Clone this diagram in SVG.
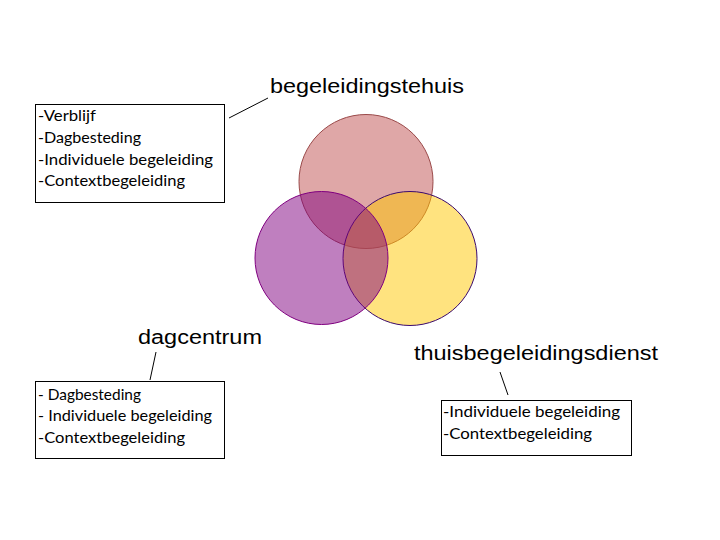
<svg xmlns="http://www.w3.org/2000/svg" width="720" height="540" viewBox="0 0 720 540">
<style>
.title{font-family:"Liberation Sans",Arial,sans-serif;font-size:20px;fill:#000}
.item{font-family:Lato,"Open Sans",sans-serif;font-size:16px;fill:#000}
.box{fill:#fff;stroke:#000;stroke-width:1}
.conn{stroke:#000;stroke-width:1;fill:none}
</style>
<rect width="720" height="540" fill="#fff"/>
<g id="circles">
<circle id="c-top" cx="366" cy="181.5" r="67" fill="rgb(192,80,80)" fill-opacity="0.5" stroke="#9a4a4a" stroke-width="1"/>
<circle id="c-right" cx="410" cy="258.5" r="67" fill="rgb(255,200,0)" fill-opacity="0.5" stroke="#3a0a70" stroke-width="1"/>
<circle id="c-left" cx="321.5" cy="258" r="66.5" fill="rgb(128,0,128)" fill-opacity="0.5" stroke="#800080" stroke-width="1"/>
</g>
<g id="connectors">
<line class="conn" x1="229" y1="118" x2="268" y2="98"/>
<line class="conn" x1="156" y1="352" x2="150" y2="380"/>
<line class="conn" x1="500" y1="372" x2="508" y2="395"/>
</g>
<g id="node-begeleidingstehuis">
<text class="title" x="270" y="93" textLength="194" lengthAdjust="spacingAndGlyphs">begeleidingstehuis</text>
<rect class="box" x="35.5" y="104.5" width="189" height="98"/>
<text class="item" x="38" y="121" textLength="58" lengthAdjust="spacingAndGlyphs">-Verblijf</text>
<text class="item" x="38" y="143" textLength="103" lengthAdjust="spacingAndGlyphs">-Dagbesteding</text>
<text class="item" x="38" y="165" textLength="175" lengthAdjust="spacingAndGlyphs">-Individuele begeleiding</text>
<text class="item" x="38" y="186" textLength="147" lengthAdjust="spacingAndGlyphs">-Contextbegeleiding</text>
</g>
<g id="node-dagcentrum">
<text class="title" x="138" y="344" textLength="124" lengthAdjust="spacingAndGlyphs">dagcentrum</text>
<rect class="box" x="35.5" y="381.5" width="189" height="77"/>
<text class="item" x="38" y="400" textLength="103" lengthAdjust="spacingAndGlyphs">- Dagbesteding</text>
<text class="item" x="38" y="421" textLength="174" lengthAdjust="spacingAndGlyphs">- Individuele begeleiding</text>
<text class="item" x="38" y="443" textLength="147" lengthAdjust="spacingAndGlyphs">-Contextbegeleiding</text>
</g>
<g id="node-thuisbegeleidingsdienst">
<text class="title" x="414" y="360" textLength="244" lengthAdjust="spacingAndGlyphs">thuisbegeleidingsdienst</text>
<rect class="box" x="441.5" y="400.5" width="190" height="55"/>
<text class="item" x="443" y="417" textLength="177" lengthAdjust="spacingAndGlyphs">-Individuele begeleiding</text>
<text class="item" x="443" y="439" textLength="149" lengthAdjust="spacingAndGlyphs">-Contextbegeleiding</text>
</g>
</svg>
